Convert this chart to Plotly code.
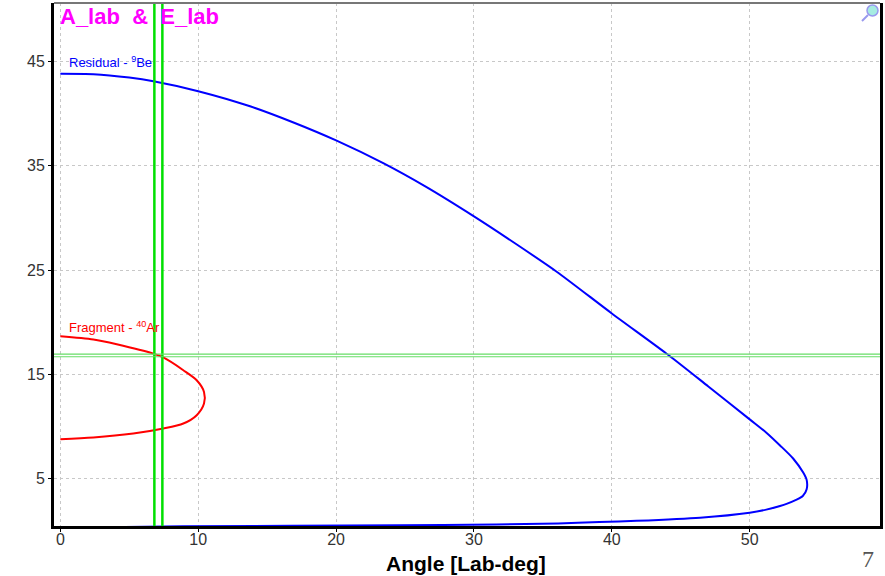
import plotly.graph_objects as go

# Residual 9Be kinematic curve (angle in lab deg, energy)
res_angle = [0.0, 2.4, 5.0, 6.75, 10.0, 13.76, 17.0, 20.0, 23.42, 26.5, 30.0, 33.0, 36.0, 40.0,
             44.1, 47.0, 50.0, 51.23, 52.2, 53.15, 53.88, 54.13, 54.13, 53.85, 53.4, 52.67, 52.2, 51.2, 50.0,
             46.4, 41.8, 39.1, 36.1, 31.6, 24.6, 8.9, 0.0]
res_energy = [43.82, 43.78, 43.45, 43.1, 42.15, 40.7, 39.1, 37.43, 35.25, 33.0, 30.15, 27.55, 24.85, 20.85,
              16.87, 13.85, 10.7, 9.4, 8.2, 6.95, 5.6, 4.9, 4.0, 3.35, 3.0, 2.6, 2.4, 2.05, 1.76,
              1.28, 0.98, 0.86, 0.73, 0.63, 0.54, 0.46, 0.3]

# Fragment 40Ar kinematic curve
frag_angle = [0.0, 2.4, 4.09, 6.75, 7.47, 8.92, 9.89, 10.42, 10.42, 9.89, 8.92, 7.47, 5.29, 2.4, 0.0]
frag_energy = [18.67, 18.36, 17.9, 17.0, 16.63, 15.41, 14.45, 13.33, 12.22, 11.1, 10.3, 9.82, 9.34, 8.96, 8.8]

# Cursor lines
v_lines = [6.82, 7.40]
h_lines = [16.95, 16.7]

x_ticks = [0, 10, 20, 30, 40, 50]
y_ticks = [5, 15, 25, 35, 45]
x_range = [-0.46, 59.45]
y_range = [0.48, 50.6]

FONT = "Liberation Sans, Arial"

fig = go.Figure()
fig.add_trace(go.Scatter(x=res_angle, y=res_energy, mode="lines",
                         line=dict(color="#0000ff", width=2, shape="spline", smoothing=0.7),
                         showlegend=False))
fig.add_trace(go.Scatter(x=frag_angle, y=frag_energy, mode="lines",
                         line=dict(color="#ff0000", width=2, shape="spline", smoothing=0.8),
                         showlegend=False))

for v in v_lines:
    fig.add_shape(type="line", xref="x", yref="paper", x0=v, x1=v, y0=0, y1=1,
                  line=dict(color="#00e000", width=2.5))
for h in h_lines:
    fig.add_shape(type="line", xref="paper", yref="y", x0=0, x1=1, y0=h, y1=h,
                  line=dict(color="#66dd66", width=1.2))

# top frame line (gray)
fig.add_shape(type="line", xref="paper", yref="paper", x0=0, x1=1, y0=1, y1=1,
              line=dict(color="#777777", width=2))

# magnifier icon
fig.add_shape(type="circle", xref="paper", yref="paper",
              x0=(867 - 54) / 826, x1=(878 - 54) / 826, y0=(526 - 16) / 523, y1=(526 - 5) / 523,
              line=dict(color="#9999ee", width=1.5), fillcolor="rgba(0,200,170,0.35)")
fig.add_shape(type="line", xref="paper", yref="paper",
              x0=(862 - 54) / 826, x1=(868 - 54) / 826, y0=(526 - 21) / 523, y1=(526 - 15) / 523,
              line=dict(color="#9999ee", width=2))

fig.add_annotation(text="<b>A_lab  &  E_lab</b>", xref="paper", yref="paper",
                   x=(58 - 54) / 826, y=(526 - 17) / 523, xanchor="left", yanchor="middle",
                   showarrow=False, font=dict(family=FONT, size=22, color="#ff00ff"))
fig.add_annotation(text="Residual - <sup>9</sup>Be", xref="x", yref="y",
                   x=0.5, y=44.9, xanchor="left", yanchor="middle", showarrow=False,
                   font=dict(family=FONT, size=13, color="#0000ff"))
fig.add_annotation(text="Fragment - <sup>40</sup>Ar", xref="x", yref="y",
                   x=0.5, y=19.55, xanchor="left", yanchor="middle", showarrow=False,
                   font=dict(family=FONT, size=13, color="#ff0000"))
fig.add_annotation(text="<b>Angle [Lab-deg]</b>", xref="paper", yref="paper",
                   x=(466 - 54) / 826, y=(526 - 577) / 523, xanchor="center", yanchor="bottom",
                   showarrow=False, font=dict(family=FONT, size=21, color="#000000"))
fig.add_annotation(text="7", xref="paper", yref="paper",
                   x=(868 - 54) / 826, y=(526 - 559) / 523, xanchor="center", yanchor="middle",
                   showarrow=False, font=dict(family="Liberation Serif, Times New Roman", size=24, color="#555555"))

fig.update_layout(
    width=885, height=576,
    margin=dict(l=54, r=5, t=3, b=50),
    paper_bgcolor="white", plot_bgcolor="white",
    showlegend=False,
)
fig.update_xaxes(range=x_range, tickvals=x_ticks, ticktext=[str(t) for t in x_ticks],
                 showgrid=True, gridcolor="#c8c8c8", griddash="3px,3px", gridwidth=1,
                 zeroline=False, showline=True, linecolor="black", linewidth=3,
                 ticks="outside", ticklen=3, tickcolor="black", ticklabelstandoff=-6,
                 tickfont=dict(family=FONT, size=16, color="#333333"))
fig.update_yaxes(range=y_range, tickvals=y_ticks, ticktext=[str(t) for t in y_ticks],
                 showgrid=True, gridcolor="#c8c8c8", griddash="3px,3px", gridwidth=1,
                 zeroline=False, showline=True, linecolor="black", linewidth=3, mirror=True,
                 ticks="outside", ticklen=3, tickcolor="black",
                 tickfont=dict(family=FONT, size=16, color="#333333"))

fig.write_html("out.html")
